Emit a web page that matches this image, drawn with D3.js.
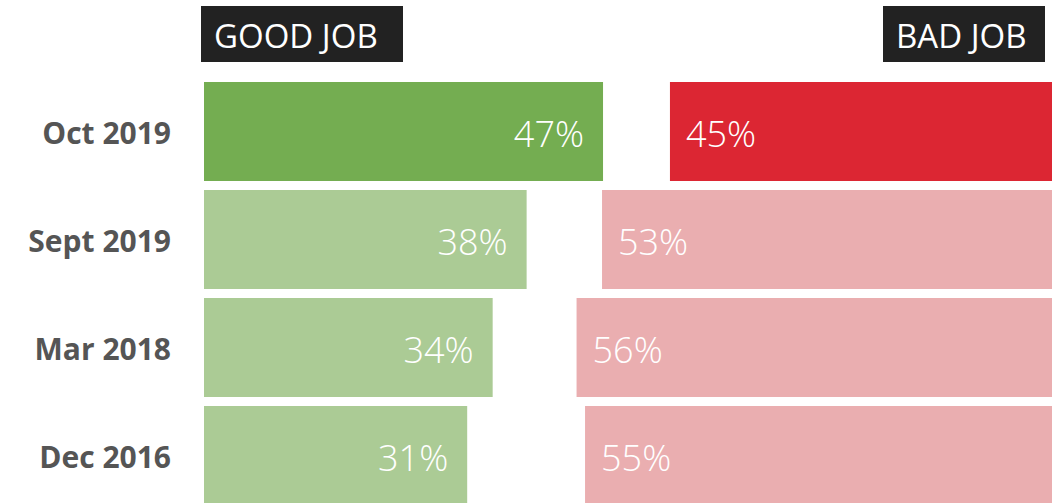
<!DOCTYPE html>
<html>
<head>
<meta charset="utf-8">
<script src="https://cdn.jsdelivr.net/npm/d3@7"></script>
<style>
  body { margin: 0; background: #fff; }
  svg { display: block; font-family: "Open Sans", "Noto Sans", sans-serif; }
</style>
</head>
<body>
<svg id="chart"></svg>
<script>
// survey waves, newest first
let dates = ["Oct 2019", "Sept 2019", "Mar 2018", "Dec 2016"]
let goodJob = [47, 38, 34, 31]
let badJob = [45, 53, 56, 55]
let headers = ["GOOD JOB", "BAD JOB"]

let width = 1063
let height = 503

let svg = d3.select("#chart")
    .attr("width", width)
    .attr("height", height)

let leftEdge = 204
let rightEdge = 1052

let xScale = d3.scaleLinear()
    .domain([0, 100])
    .range([0, 849])

let yScale = d3.scaleBand()
    .domain(dates)
    .range([82, 505])
    .paddingInner(9 / 108)
    .paddingOuter(0)

let rows = dates.map((d, i) => ({date: d, good: goodJob[i], bad: badJob[i], latest: i == 0}))

// header boxes
let headerBoxes = [
    {label: headers[0], x: 201, w: 202},
    {label: headers[1], x: 883, w: 162}
]
let hdr = svg.selectAll("g.header").data(headerBoxes)
    .enter().append("g")
    .attr("class", "header")
hdr.append("rect")
    .attr("x", d => d.x)
    .attr("y", 6)
    .attr("width", d => d.w)
    .attr("height", 56)
    .style("fill", "#222222")
hdr.append("text")
    .attr("x", d => d.x + 13)
    .attr("y", 35)
    .attr("text-anchor", "start")
    .attr("dominant-baseline", "central")
    .style("fill", "#fff")
    .style("font-size", "33px")
    .text(d => d.label)

let row = svg.selectAll("g.row").data(rows)
    .enter().append("g")
    .attr("class", "row")

row.append("text")
    .attr("x", 171)
    .attr("y", d => yScale(d.date) + yScale.bandwidth() / 2 + 1)
    .attr("text-anchor", "end")
    .attr("dominant-baseline", "central")
    .style("fill", "#555555")
    .style("font-weight", "bold")
    .style("font-size", "30px")
    .text(d => d.date)

row.append("rect")
    .attr("x", leftEdge)
    .attr("y", d => yScale(d.date))
    .attr("width", d => xScale(d.good))
    .attr("height", yScale.bandwidth())
    .style("fill", d => d.latest ? "#74ad51" : "#abcb95")

row.append("rect")
    .attr("x", d => rightEdge - xScale(d.bad))
    .attr("y", d => yScale(d.date))
    .attr("width", d => xScale(d.bad))
    .attr("height", yScale.bandwidth())
    .style("fill", d => d.latest ? "#dc2633" : "#eaaeb0")

row.append("text")
    .attr("x", d => leftEdge + xScale(d.good) - 19)
    .attr("y", d => yScale(d.date) + yScale.bandwidth() / 2 + 2)
    .attr("text-anchor", "end")
    .attr("dominant-baseline", "central")
    .style("fill", "#fff")
    .style("font-size", "36px")
    .style("font-weight", 300)
    .text(d => d.good + "%")

row.append("text")
    .attr("x", d => rightEdge - xScale(d.bad) + 16)
    .attr("y", d => yScale(d.date) + yScale.bandwidth() / 2 + 2)
    .attr("text-anchor", "start")
    .attr("dominant-baseline", "central")
    .style("fill", "#fff")
    .style("font-size", "36px")
    .style("font-weight", 300)
    .text(d => d.bad + "%")
</script>
</body>
</html>
